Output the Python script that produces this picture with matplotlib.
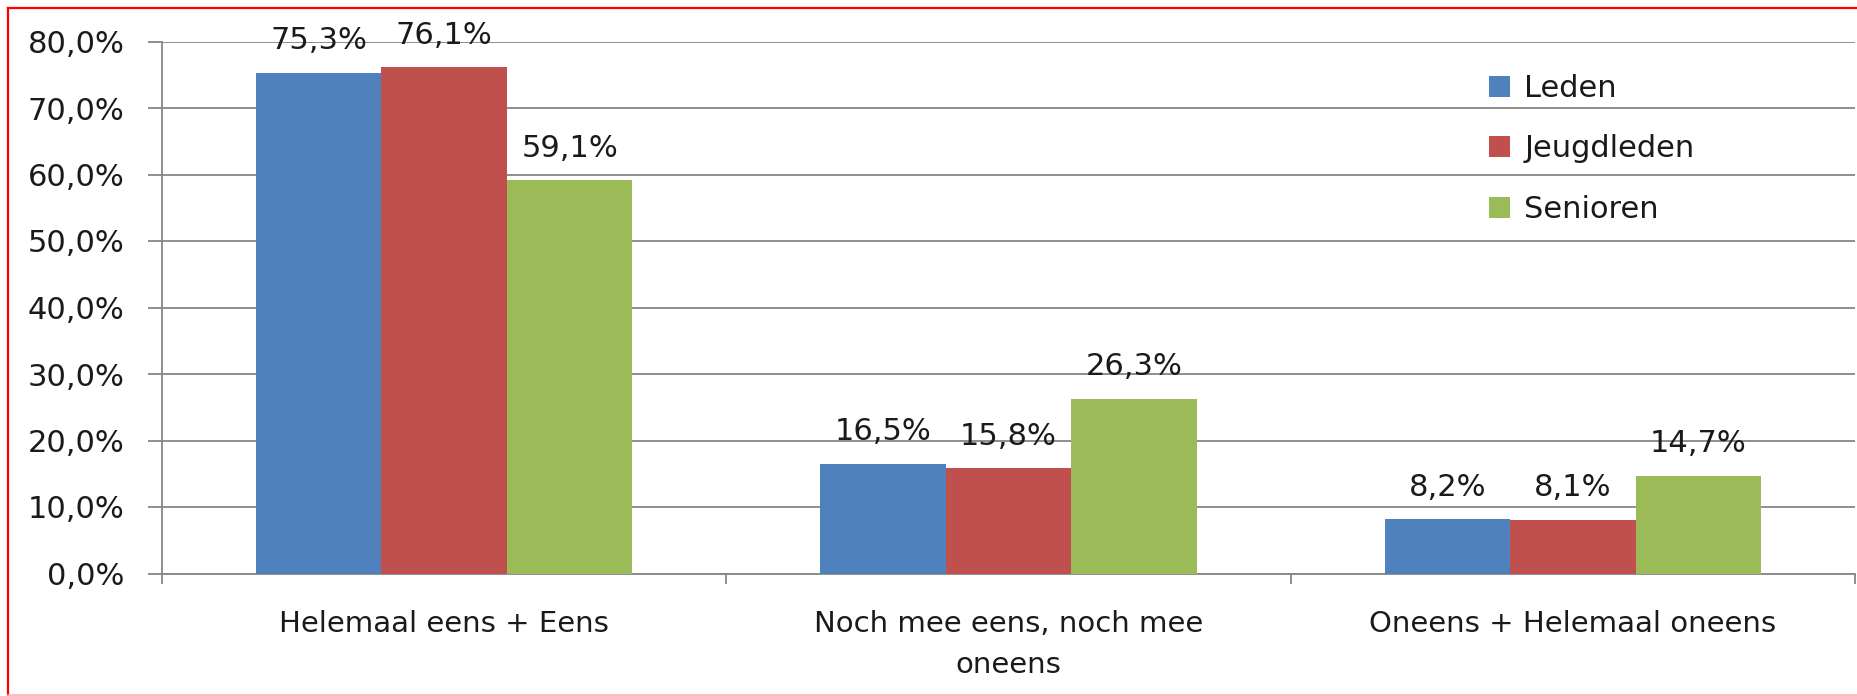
import matplotlib
matplotlib.use('Agg')
import matplotlib.pyplot as plt
from matplotlib.lines import Line2D
import numpy as np

categories = ['Helemaal eens + Eens', 'Noch mee eens, noch mee\noneens', 'Oneens + Helemaal oneens']
series = ['Leden', 'Jeugdleden', 'Senioren']
leden = [75.3, 16.5, 8.2]
jeugdleden = [76.1, 15.8, 8.1]
senioren = [59.1, 26.3, 14.7]
colors = ['#4F81BD', '#C0504D', '#9BBB59']
yticks = [0, 10, 20, 30, 40, 50, 60, 70, 80]

W, H = 1858, 696
fig = plt.figure(figsize=(W / 100, H / 100), dpi=100)
ax = fig.add_axes([162 / W, (H - 573.5) / H, (1855 - 162) / W, 532 / H])

grid_c = '#868686'
txt_c = '#1a1a1a'
x = np.arange(len(categories))
bw = 1 / 4.5
for k, (name, vals) in enumerate(zip(series, [leden, jeugdleden, senioren])):
    pos = x + (k - 1) * bw
    ax.bar(pos, vals, width=bw, color=colors[k], label=name, zorder=3)
    for px_, v in zip(pos, vals):
        ax.annotate(f'{v:.1f}%'.replace('.', ','), (px_, v), xytext=(0, 23),
                    textcoords='offset points', ha='center', va='center',
                    fontsize=22, color=txt_c, family='DejaVu Sans', zorder=4)

ax.set_xlim(-0.5, 2.5)
ax.set_ylim(0, 80)
ax.set_yticks(yticks)
ax.set_yticklabels([f'{t:.1f}%'.replace('.', ',') for t in yticks],
                   fontsize=22, color=txt_c, family='DejaVu Sans')
ax.yaxis.grid(True, color=grid_c, linewidth=1.3, zorder=0)
ax.tick_params(axis='y', length=10, width=1.3, color=grid_c, pad=17)

ax.set_xticks(x)
ax.set_xticklabels(categories, fontsize=21, family='DejaVu Sans', color=txt_c,
                   linespacing=1.6)
ax.set_xticks([-0.5, 0.5, 1.5, 2.5], minor=True)
ax.tick_params(axis='x', which='major', length=0, pad=26)
ax.tick_params(axis='x', which='minor', length=7, width=1.3, color=grid_c)

for s in ['top', 'right']:
    ax.spines[s].set_visible(False)
for s in ['left', 'bottom']:
    ax.spines[s].set_color(grid_c)
    ax.spines[s].set_linewidth(1.3)

leg = ax.legend(loc='upper left', bbox_to_anchor=((1489 - 162) / (1855 - 162), (573.5 - 74) / 532),
                frameon=False, prop={'family': 'DejaVu Sans', 'size': 22},
                handlelength=0.7, handleheight=0.7, handletextpad=0.45,
                labelspacing=1.03, borderpad=0, borderaxespad=0)
for t in leg.get_texts():
    t.set_color(txt_c)

# red frame around the chart
fig.add_artist(Line2D([8 / W, 8 / W], [0, 1 - 8 / H], color='red', linewidth=1.6,
                      transform=fig.transFigure))
fig.add_artist(Line2D([8 / W, 1], [1 - 8 / H, 1 - 8 / H], color='red', linewidth=1.6,
                      transform=fig.transFigure))
fig.add_artist(Line2D([8 / W, 1], [1.5 / H, 1.5 / H], color='#f4b4b4', linewidth=1.2,
                      transform=fig.transFigure))

fig.savefig('out.png', dpi=100)
